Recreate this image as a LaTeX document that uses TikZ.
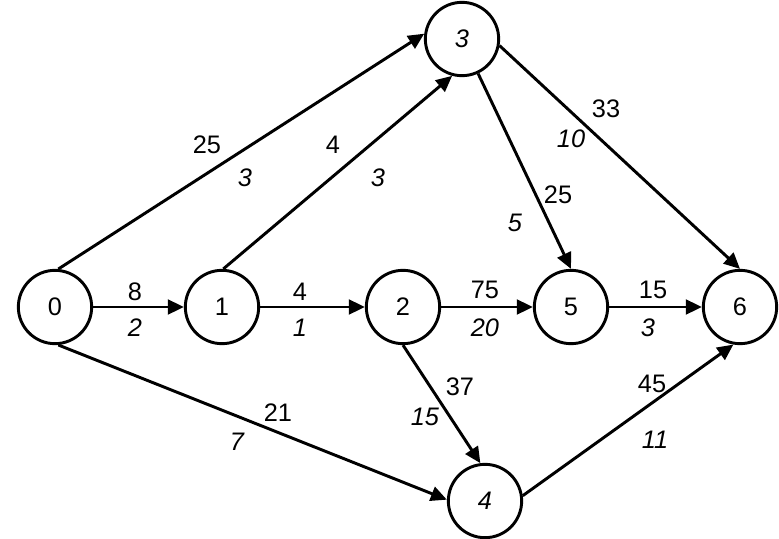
\documentclass[tikz,border=0pt]{standalone}
\usepackage{fontspec}
\setmainfont{Liberation Sans}
\usetikzlibrary{arrows.meta}
\begin{document}
\begin{tikzpicture}[x=0.75pt,y=-0.75pt,
  every node/.style={font=\fontsize{19}{22}\selectfont},
  vtx/.style={circle,draw,line width=2.2pt,minimum size=55pt,inner sep=0pt,font=\fontsize{19}{22}\selectfont},
  edge/.style={line width=2.2pt,-{Triangle[length=12pt,width=11pt]}},
  up/.style={inner sep=0pt,font=\fontsize{19}{22}\selectfont},
  it/.style={inner sep=0pt,font=\fontsize{19}{22}\selectfont\itshape}]
\useasboundingbox (0,0) rectangle (779,539);
\node[vtx] (n0) at (55,307) {0};
\node[vtx] (n1) at (222,307) {1};
\node[vtx] (n2) at (403,307) {2};
\node[vtx] (n5) at (571,307) {5};
\node[vtx] (n6) at (740,307) {6};
\node[vtx] (n3) at (462,39) {\itshape 3};
\node[vtx] (n4) at (485,501) {\itshape 4};

\draw[edge] (n0.east) -- (n1.west);
\draw[edge] (n1.east) -- (n2.west);
\draw[edge] (n2.east) -- (n5.west);
\draw[edge] (n5.east) -- (n6.west);
\draw[edge] (n0.85) -- (n3.172);
\draw[edge] (n1.88) -- (n3.-105);
\draw[edge] (n3.-65) -- (n5.north);
\draw[edge] (n3.-10) -- (n6.north);
\draw[edge] (n0.-85) -- (n4.178);
\draw[edge] (n2.south) -- (n4.97);
\draw[edge] (n4.8) -- (n6.-100);

\node[up] (l01a) at (135,292) {8};
\node[it] (l01b) at (135,328) {2};
\node[up] (l12a) at (300,292) {4};
\node[it] (l12b) at (300,328) {1};
\node[up] (l25a) at (485,290) {75};
\node[it] (l25b) at (485,328) {20};
\node[up] (l56a) at (653,290) {15};
\node[it] (l56b) at (648,328) {3};
\node[up] (l03a) at (207,145) {25};
\node[it] (l03b) at (245,178) {3};
\node[up] (l13a) at (333,145) {4};
\node[it] (l13b) at (378,178) {3};
\node[up] (l36a) at (606,109) {33};
\node[it] (l36b) at (571,139) {10};
\node[up] (l35a) at (558,195) {25};
\node[it] (l35b) at (515,223) {5};
\node[up] (l04a) at (278,413) {21};
\node[it] (l04b) at (237,442) {7};
\node[up] (l24a) at (460,387) {37};
\node[it] (l24b) at (425,417) {15};
\node[up] (l46a) at (652,384) {45};
\node[it] (l46b) at (655,440) {11};
\end{tikzpicture}
\end{document}
